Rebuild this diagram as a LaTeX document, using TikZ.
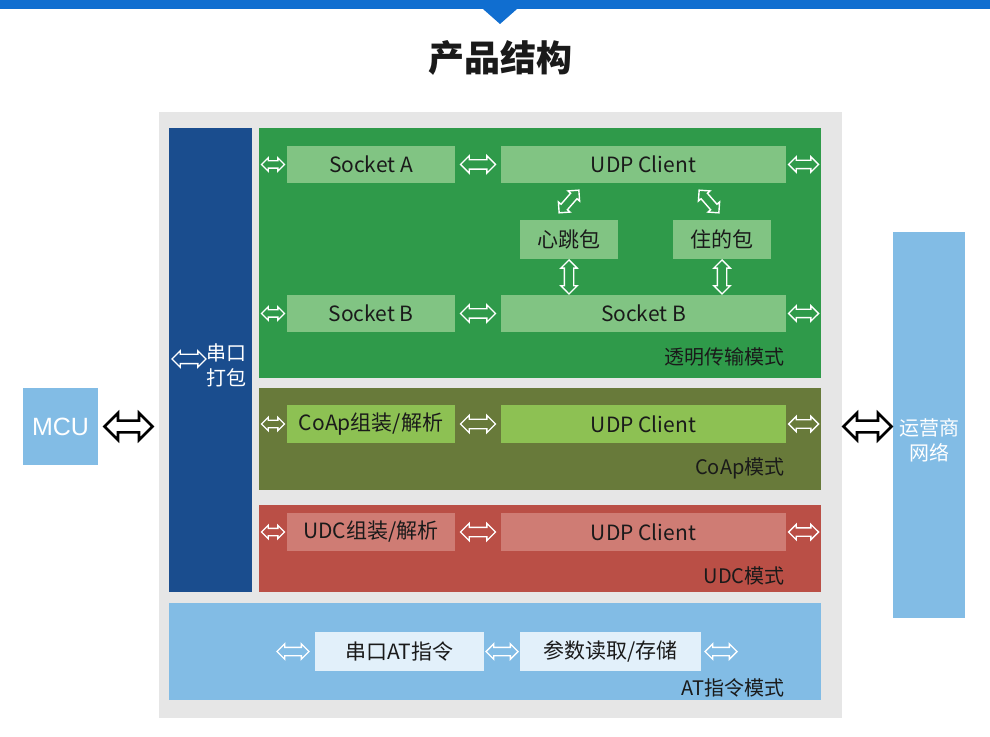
\documentclass[tikz,border=0pt]{standalone}
\usepackage{fontspec}
\setmainfont{Noto Sans CJK SC}
\newfontfamily\mcufont{Liberation Sans}
\usetikzlibrary{shapes.arrows,calc}

\tikzset{
  sz/.style 2 args={minimum width=#1*0.5pt, minimum height=#2*0.5pt},
  box/.style={inner sep=0pt, outer sep=0pt, text=ink, font=\fontsize{10.5}{12}\selectfont},
  panel/.style={inner sep=0pt, outer sep=0pt},
  tag/.style={anchor=east, inner sep=0pt, text=ink, font=\fontsize{10}{12}\selectfont},
  warr/.style n args={3}{double arrow, draw=white, line width=0.7pt, inner xsep=0pt,
    inner ysep=#2*0.25pt, minimum height=#1*0.5pt, double arrow head extend=#3*0.5pt},
  barr/.style={double arrow, draw=black, fill=white, line width=1.3pt, inner xsep=0pt,
    inner ysep=2.3pt, minimum height=24pt, double arrow head extend=3.8pt}
}

\begin{document}
\begin{tikzpicture}[x=0.5pt,y=-0.5pt]
  \definecolor{ink}{RGB}{26,26,26}
  \definecolor{topblue}{RGB}{16,110,208}
  \definecolor{base}{RGB}{230,230,230}
  \definecolor{navy}{RGB}{26,77,142}
  \definecolor{grn}{RGB}{47,154,74}
  \definecolor{grnbox}{RGB}{129,196,131}
  \definecolor{olive}{RGB}{104,122,58}
  \definecolor{lime}{RGB}{141,193,83}
  \definecolor{brick}{RGB}{186,79,70}
  \definecolor{rose}{RGB}{207,124,116}
  \definecolor{sky}{RGB}{130,188,229}
  \definecolor{pale}{RGB}{226,240,250}

  \useasboundingbox (0,0) rectangle (990,737);
  \fill[white] (0,0) rectangle (990,737);
  \fill[topblue] (0,0) rectangle (990,9.5);
  \fill[topblue] (483,9) -- (517,9) -- (500,24) -- cycle;
  \node[text=ink, font=\fontsize{18}{20}\selectfont\bfseries] (title) at (500,58) {产品结构};

  \node[panel, fill=base, sz={683}{606}] (frame) at (500.5,415) {};
  \node[panel, fill=navy, sz={83}{464}] (pack) at (210.5,360) {};
  \node[panel, fill=grn, sz={562}{250}] (trans) at (540,253) {};
  \node[panel, fill=olive, sz={562}{102}] (coapp) at (540,439) {};
  \node[panel, fill=brick, sz={562}{87}] (udcp) at (540,548.5) {};
  \node[panel, fill=sky, sz={652}{97}] (atp) at (495,651.5) {};

  \foreach \name/\x/\y/\w/\h/\col/\txt in {
    sockA/371/164.5/168/37/grnbox/{Socket A},
    udpA/643.5/164.5/285/37/grnbox/{UDP Client},
    beat/569/239.5/98/39/grnbox/{心跳包},
    live/722/239.5/98/39/grnbox/{住的包},
    sockB/371/313.5/168/37/grnbox/{Socket B},
    udpB/643.5/313.5/285/37/grnbox/{Socket B},
    coap/371/424/168/38/lime/{CoAp组装/解析},
    udpC/643.5/424/285/38/lime/{UDP Client},
    udc/371/532/168/38/rose/{UDC组装/解析},
    udpD/643.5/532/285/38/rose/{UDP Client},
    atcmd/399.5/651.5/169/39/pale/{串口AT指令},
    param/610.5/651.5/181/39/pale/{参数读取/存储}
  } {
    \node[box, fill=\col, sz={\w}{\h}] (\name) at (\x,\y) {\txt};
  }

  \foreach \l/\r/\p in {sockA/udpA/trans, sockB/udpB/trans, coap/udpC/coapp, udc/udpD/udcp} {
    \node[warr={23}{6}{3}] (\l-in) at ($(\p.west|-\l)!0.5!(\l.west)$) {};
    \node[warr={35}{8}{4}] (\l-mid) at ($(\l.east)!0.5!(\r.west)$) {};
    \node[warr={30}{7}{3.5}] (\r-out) at ($(\r.east)!0.5!(\p.east|-\r)$) {};
  }

  \node[warr={30}{7}{3.5}, rotate=49] (beat-up) at ($(beat.north)!0.5!(beat.north|-udpA.south)$) {};
  \node[warr={30}{7}{3.5}, rotate=-49] (live-up) at ($(live.north)!0.5!(live.north|-udpA.south)+(-13,0)$) {};
  \node[warr={34}{8}{3.5}, rotate=90] (beat-dn) at ($(beat.south)!0.5!(beat.south|-udpB.north)$) {};
  \node[warr={34}{8}{3.5}, rotate=90] (live-dn) at ($(live.south)!0.5!(live.south|-udpB.north)$) {};

  \node[warr={32}{7}{3.5}] (at-in) at ($(atcmd.west)+(-22,0)$) {};
  \node[warr={32}{7}{3.5}] (at-mid) at ($(atcmd.east)!0.5!(param.west)$) {};
  \node[warr={32}{7}{3.5}] (at-out) at ($(param.east)+(20,0)$) {};

  \node[warr={34}{8}{3.5}] (pack-arr) at ($(pack.west)+(20,-1)$) {};
  \node[anchor=west, align=left, text=white, inner sep=0pt, font=\fontsize{10}{12.5}\selectfont] (packtext) at (206,365) {串口\\打包};

  \node[tag] (transl) at (785,357) {透明传输模式};
  \node[tag] (coapl) at (785,468) {CoAp模式};
  \node[tag] (udcl) at (785,576) {UDC模式};
  \node[tag] (atl) at (785,688) {AT指令模式};

  \node[panel, fill=sky, sz={75}{77}, text=white, font=\mcufont\fontsize{12.5}{14}\selectfont] (mcu) at (60.5,426.5) {MCU};
  \node[panel, fill=sky, sz={72}{386}] (net) at (929,425) {};
  \node[align=center, text=white, inner sep=0pt, font=\fontsize{10}{12.5}\selectfont] (nettext) at (929,440) {运营商\\网络};

  \node[barr] (mcu-arr) at ($(mcu.east)!0.5!(frame.west|-mcu)$) {};
  \node[barr] (net-arr) at ($(frame.east|-mcu)!0.5!(net.west|-mcu)$) {};
\end{tikzpicture}
\end{document}
